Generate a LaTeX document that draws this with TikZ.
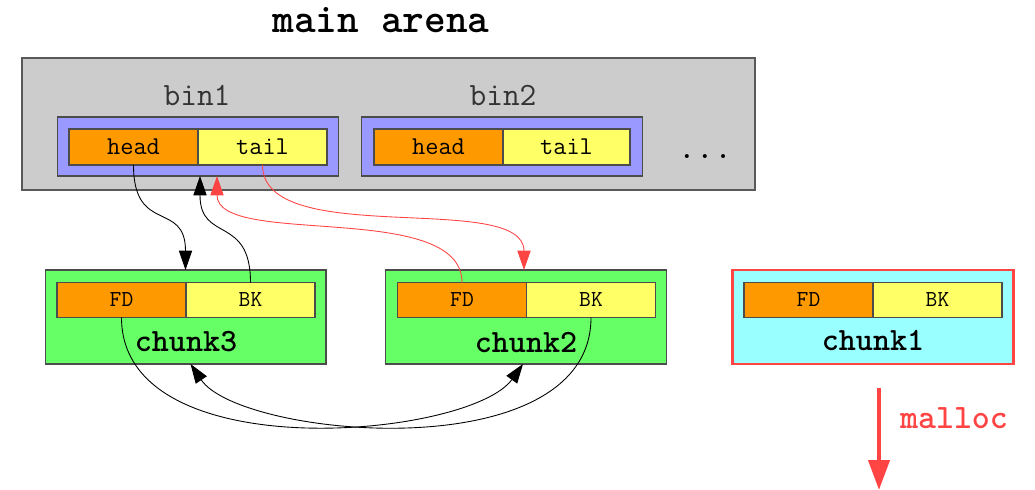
\documentclass[tikz,border=0pt]{standalone}
\usetikzlibrary{arrows.meta}

\definecolor{arenagray}{HTML}{CCCCCC}
\definecolor{binblue}{HTML}{9999FF}
\definecolor{fdorange}{HTML}{FF9900}
\definecolor{bkyellow}{HTML}{FFFF66}
\definecolor{freegreen}{HTML}{66FF66}
\definecolor{usedcyan}{HTML}{99FFFF}
\definecolor{linkred}{HTML}{FF4444}

\newcommand{\mono}[1]{\ttfamily\fontsize{#1}{#1}\selectfont}

\tikzset{
  box/.style={draw=black!70, line width=0.6pt, inner sep=0pt, outer sep=0pt},
  cell/.style={box, minimum width=2.58cm, minimum height=0.70cm, font=\mono{13}},
  fd/.style={cell, fill=fdorange},
  bk/.style={cell, fill=bkyellow},
  binbox/.style={box, fill=binblue, minimum width=5.62cm, minimum height=1.18cm},
  chunkbox/.style={box, fill=freegreen, minimum width=5.62cm, minimum height=1.88cm},
  binlabel/.style={font=\mono{18.5}, text=black!80},
  chunklabel/.style={font=\mono{18.5}\bfseries},
  link/.style={-{Triangle[length=11pt,width=7.5pt]}, line width=0.5pt},
}

\begin{document}
\begin{tikzpicture}[x=0.02cm, y=-0.02cm]
\useasboundingbox (0,0) rectangle (1035,490);

% arena with its bins
\node[font=\mono{23.5}\bfseries] (title) at (381,20) {main arena};
\node[box, fill=arenagray, draw=black!65, line width=0.8pt,
      minimum width=14.66cm, minimum height=2.64cm] (arena) at (388.5,124) {};
\node[binlabel] (bin1) at (197,95) {bin1};
\node[binlabel] (bin2) at (503,95) {bin2};
\node[binbox] (b1) at (198,146.5) {};
\node[fd, minimum height=0.72cm, font=\mono{14.6}] (h1) at (133.5,147) {head};
\node[bk, minimum height=0.72cm, font=\mono{14.6}] (t1) at (262.5,147) {tail};
\node[binbox] (b2) at (502,146.5) {};
\node[fd, minimum height=0.72cm, font=\mono{14.6}] (h2) at (438.5,147) {head};
\node[bk, minimum height=0.72cm, font=\mono{14.6}, minimum width=2.54cm] (t2) at (566.5,147) {tail};
\node[font=\mono{20}] (more) at (705,157) {...};

% free chunks
\node[chunkbox] (c3) at (185.5,317) {};
\node[fd] (f3) at (121.5,300) {FD};
\node[bk] (k3) at (250.5,300) {BK};
\node[chunklabel] (n3) at (186,342) {chunk3};

\node[chunkbox] (c2) at (526,317) {};
\node[fd] (f2) at (462,300) {FD};
\node[bk] (k2) at (591,300) {BK};
\node[chunklabel] (n2) at (526,342) {chunk2};

% chunk taken by malloc
\node[chunkbox, fill=usedcyan, draw=linkred, line width=1.2pt] (c1) at (873,317) {};
\node[fd] (f1) at (808.5,300) {FD};
\node[bk] (k1) at (937.5,300) {BK};
\node[chunklabel] (n1) at (873,340) {chunk1};

\coordinate (m0) at (879,388);
\coordinate (m1) at (879,490);
\draw[linkred, line width=2.4pt, -{Triangle[length=0.6cm,width=0.42cm]}] (m0) -- (m1);
\node[font=\mono{19.5}\bfseries, text=linkred] (malloc) at (954,418) {malloc};

% list links
\draw[link] (h1.south) .. controls +(0,70) and +(0,-70) .. (c3.north);
\draw[link] (k3.north) .. controls +(0,-68) and +(0,67) .. ([xshift=0.04cm]b1.south);
\draw[link, linkred] (t1.south) .. controls +(0,85) and +(0,-80) .. ([xshift=-0.04cm]c2.north);
\draw[link, linkred] (f2.north) .. controls +(0,-83) and +(0,72) .. ([xshift=0.38cm]b1.south);
\draw[link] (f3.south) .. controls +(0,153) and +(-53,74) .. ([xshift=-0.06cm]c2.south);
\draw[link] (k2.south) .. controls +(0,153) and +(50,74) .. ([xshift=0.1cm]c3.south);
\end{tikzpicture}
\end{document}
